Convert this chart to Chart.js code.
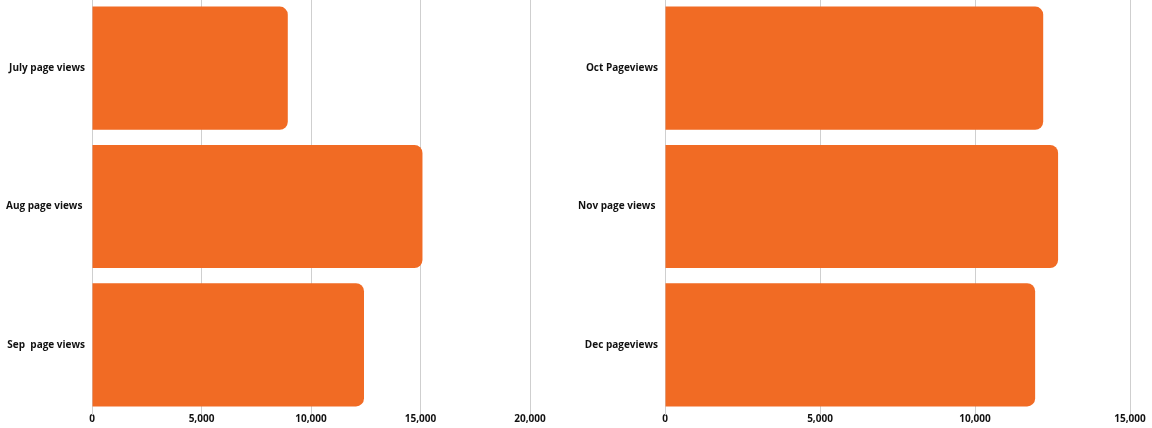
<!DOCTYPE html>
<html>
<head>
<meta charset="utf-8">
<script src="https://cdn.jsdelivr.net/npm/chart.js@4"></script>
<style>
  html, body { margin: 0; padding: 0; background: #fff; }
  body { width: 1152px; height: 428px; position: relative; overflow: hidden; }
  .box { position: absolute; top: -14px; height: 442px; }
  #leftBox { left: 0; width: 560px; }
  #rightBox { left: 570px; width: 582px; }
</style>
</head>
<body>
<div class="box" id="leftBox"><canvas id="leftChart" width="560" height="442"></canvas></div>
<div class="box" id="rightBox"><canvas id="rightChart" width="582" height="442"></canvas></div>
<script>
var leftLabels = ['July page views', 'Aug page views ', 'Sep  page views'];
var leftViews = [8940, 15090, 12420];
var leftMax = 20000;

var rightLabels = ['Oct Pageviews', 'Nov page views ', 'Dec pageviews'];
var rightViews = [12200, 12680, 11940];
var rightMax = 15000;

var tickStep = 5000;
var barColor = '#F16B24';

Chart.defaults.font.family = "'Open Sans', sans-serif";
Chart.defaults.font.size = 10;
Chart.defaults.font.weight = 'bold';
Chart.defaults.color = '#111';

function makeChart(id, labels, values, max, axisWidth, padRight) {
    var ctx = document.getElementById(id);
    return new Chart(ctx, {
        type: 'bar',
        data: {
            labels: labels,
            datasets: [{
                label: 'Page views',
                data: values,
                backgroundColor: barColor,
                borderWidth: 0,
                borderRadius: 8,
                borderSkipped: 'start',
                categoryPercentage: 1,
                barPercentage: 0.89
            }]
        },
        options: {
            indexAxis: 'y',
            responsive: false,
            animation: false,
            layout: { padding: { top: 0, right: padRight, left: 0, bottom: 0 } },
            plugins: {
                legend: { display: false },
                tooltip: { enabled: false }
            },
            scales: {
                x: {
                    min: 0,
                    max: max,
                    ticks: {
                        stepSize: tickStep,
                        padding: -1,
                        maxRotation: 0,
                        callback: function (v) { return v.toLocaleString('en-US'); }
                    },
                    grid: { color: '#cfcfcf', drawTicks: false },
                    border: { display: false },
                    afterFit: function (scale) { scale.height = 14; }
                },
                y: {
                    ticks: { padding: 7 },
                    grid: { display: false, drawTicks: false },
                    border: { display: true, color: '#cfcfcf' },
                    afterFit: function (scale) { scale.width = axisWidth; }
                }
            }
        }
    });
}

var leftChart = makeChart('leftChart', leftLabels, leftViews, leftMax, 92, 30);
var rightChart = makeChart('rightChart', rightLabels, rightViews, rightMax, 95, 22);
</script>
</body>
</html>
